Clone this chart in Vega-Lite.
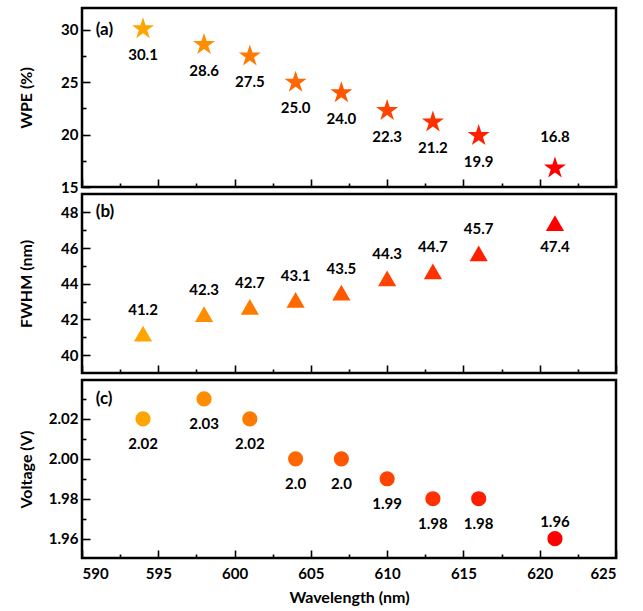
{
  "$schema": "https://vega.github.io/schema/vega-lite/v6.json",
  "padding": {"left": 16, "top": 6, "right": 10, "bottom": 4},
  "background": "white",
  "config": {
    "font": "Lato",
    "view": {"stroke": "black", "strokeWidth": 2.5},
    "axis": {"domain": false, "grid": false, "labelFont": "Lato", "labelFontWeight": "bold", "labelFontSize": 15, "labelColor": "black", "titleFont": "Lato", "titleFontWeight": "bold", "titleFontSize": 16, "titleColor": "black", "tickColor": "black", "tickWidth": 1.6},
    "text": {"font": "Lato", "fontWeight": "bold", "fontSize": 15, "color": "black"}
  },
  "datasets": {
    "d": [
      {"wl": 594, "wpe": 30.1, "fwhm": 41.2, "v": 2.02, "vlab": "2.02"},
      {"wl": 598, "wpe": 28.6, "fwhm": 42.3, "v": 2.03, "vlab": "2.03"},
      {"wl": 601, "wpe": 27.5, "fwhm": 42.7, "v": 2.02, "vlab": "2.02"},
      {"wl": 604, "wpe": 25.0, "fwhm": 43.1, "v": 2.00, "vlab": "2.0"},
      {"wl": 607, "wpe": 24.0, "fwhm": 43.5, "v": 2.00, "vlab": "2.0"},
      {"wl": 610, "wpe": 22.3, "fwhm": 44.3, "v": 1.99, "vlab": "1.99"},
      {"wl": 613, "wpe": 21.2, "fwhm": 44.7, "v": 1.98, "vlab": "1.98"},
      {"wl": 616, "wpe": 19.9, "fwhm": 45.7, "v": 1.98, "vlab": "1.98"},
      {"wl": 621, "wpe": 16.8, "fwhm": 47.4, "v": 1.96, "vlab": "1.96"}
    ]
  },
  "bounds": "flush",
  "spacing": 7,
  "vconcat": [
    {
      "width": 534, "height": 179,
      "data": {"name": "d"},
      "resolve": {"axis": {"x": "independent", "y": "independent"}},
      "layer": [
        {
          "mark": {"type": "point", "shape": "M0,-1L0.2245,-0.309L0.951,-0.309L0.363,0.118L0.588,0.809L0,0.382L-0.588,0.809L-0.363,0.118L-0.951,-0.309L-0.2245,-0.309Z", "filled": true, "size": 540, "opacity": 1},
          "encoding": {
            "x": {"field": "wl", "type": "quantitative", "scale": {"domain": [590, 625], "nice": false, "zero": false},
                  "axis": {"orient": "bottom", "values": [590, 595, 600, 605, 610, 615, 620, 625], "labels": false, "title": null, "tickSize": -8}},
            "y": {"field": "wpe", "type": "quantitative", "scale": {"domain": [15, 32.1], "nice": false, "zero": false},
                  "axis": {"orient": "left", "values": [15, 20, 25, 30], "tickSize": -8, "labelPadding": 12, "title": "WPE (%)", "titleX": -56, "titleBaseline": "middle"}},
            "color": {"field": "wl", "type": "quantitative", "scale": {"domain": [594, 621], "range": ["#FFA500", "#FF0000"], "interpolate": "rgb"}, "legend": null}
          }
        },
        {
          "transform": [{"filter": "datum.wl < 620"}],
          "mark": {"type": "text", "dy": 26},
          "encoding": {
            "x": {"field": "wl", "type": "quantitative", "axis": null},
            "y": {"field": "wpe", "type": "quantitative", "axis": null},
            "text": {"field": "wpe", "type": "quantitative", "format": ".1f"}
          }
        },
        {
          "transform": [{"filter": "datum.wl > 620"}],
          "mark": {"type": "text", "dy": -31},
          "encoding": {
            "x": {"field": "wl", "type": "quantitative", "axis": null},
            "y": {"field": "wpe", "type": "quantitative", "axis": null},
            "text": {"field": "wpe", "type": "quantitative", "format": ".1f"}
          }
        },
        {
          "data": {"values": [{"tag": "(a)"}]},
          "mark": {"type": "text", "align": "left", "fontSize": 17},
          "encoding": {
            "x": {"datum": 590.9, "type": "quantitative", "axis": {"orient": "bottom", "values": [592.5, 597.5, 602.5, 607.5, 612.5, 617.5, 622.5], "labels": false, "title": null, "tickSize": -4}},
            "y": {"datum": 30.0, "type": "quantitative", "axis": {"orient": "left", "values": [17.5, 22.5, 27.5], "labels": false, "title": null, "tickSize": -4}},
            "text": {"field": "tag"}
          }
        }
      ]
    },
    {
      "width": 534, "height": 179,
      "data": {"name": "d"},
      "resolve": {"axis": {"x": "independent", "y": "independent"}},
      "layer": [
        {
          "mark": {"type": "point", "shape": "triangle-up", "filled": true, "size": 330, "opacity": 1},
          "encoding": {
            "x": {"field": "wl", "type": "quantitative", "scale": {"domain": [590, 625], "nice": false, "zero": false},
                  "axis": {"orient": "bottom", "values": [590, 595, 600, 605, 610, 615, 620, 625], "labels": false, "title": null, "tickSize": -8}},
            "y": {"field": "fwhm", "type": "quantitative", "scale": {"domain": [39, 49.03], "nice": false, "zero": false},
                  "axis": {"orient": "left", "values": [40, 42, 44, 46, 48], "tickSize": -8, "labelPadding": 12, "title": "FWHM (nm)", "titleX": -56, "titleBaseline": "middle"}},
            "color": {"field": "wl", "type": "quantitative", "scale": {"domain": [594, 621], "range": ["#FFA500", "#FF0000"], "interpolate": "rgb"}, "legend": null}
          }
        },
        {
          "transform": [{"filter": "datum.wl < 620"}],
          "mark": {"type": "text", "dy": -24},
          "encoding": {
            "x": {"field": "wl", "type": "quantitative", "axis": null},
            "y": {"field": "fwhm", "type": "quantitative", "axis": null},
            "text": {"field": "fwhm", "type": "quantitative", "format": ".1f"}
          }
        },
        {
          "transform": [{"filter": "datum.wl > 620"}],
          "mark": {"type": "text", "dy": 24},
          "encoding": {
            "x": {"field": "wl", "type": "quantitative", "axis": null},
            "y": {"field": "fwhm", "type": "quantitative", "axis": null},
            "text": {"field": "fwhm", "type": "quantitative", "format": ".1f"}
          }
        },
        {
          "data": {"values": [{"tag": "(b)"}]},
          "mark": {"type": "text", "align": "left", "fontSize": 17},
          "encoding": {
            "x": {"datum": 590.9, "type": "quantitative", "axis": {"orient": "bottom", "values": [592.5, 597.5, 602.5, 607.5, 612.5, 617.5, 622.5], "labels": false, "title": null, "tickSize": -4}},
            "y": {"datum": 48.0, "type": "quantitative", "axis": {"orient": "left", "values": [41, 43, 45, 47], "labels": false, "title": null, "tickSize": -4}},
            "text": {"field": "tag"}
          }
        }
      ]
    },
    {
      "width": 534, "height": 178,
      "data": {"name": "d"},
      "resolve": {"axis": {"x": "independent", "y": "independent"}},
      "layer": [
        {
          "mark": {"type": "point", "shape": "circle", "filled": true, "size": 230, "opacity": 1},
          "encoding": {
            "x": {"field": "wl", "type": "quantitative", "scale": {"domain": [590, 625], "nice": false, "zero": false},
                  "axis": {"orient": "bottom", "values": [590, 595, 600, 605, 610, 615, 620, 625], "tickSize": -8, "labelPadding": 16, "title": "Wavelength (nm)", "titlePadding": 8}},
            "y": {"field": "v", "type": "quantitative", "scale": {"domain": [1.9503, 2.0395], "nice": false, "zero": false},
                  "axis": {"orient": "left", "values": [1.96, 1.98, 2.0, 2.02], "format": ".2f", "tickSize": -8, "labelPadding": 12, "title": "Voltage (V)", "titleX": -56, "titleBaseline": "middle"}},
            "color": {"field": "wl", "type": "quantitative", "scale": {"domain": [594, 621], "range": ["#FFA500", "#FF0000"], "interpolate": "rgb"}, "legend": null}
          }
        },
        {
          "transform": [{"filter": "datum.wl < 620"}],
          "mark": {"type": "text", "dy": 25},
          "encoding": {
            "x": {"field": "wl", "type": "quantitative", "axis": null},
            "y": {"field": "v", "type": "quantitative", "axis": null},
            "text": {"field": "vlab"}
          }
        },
        {
          "transform": [{"filter": "datum.wl > 620"}],
          "mark": {"type": "text", "dy": -17},
          "encoding": {
            "x": {"field": "wl", "type": "quantitative", "axis": null},
            "y": {"field": "v", "type": "quantitative", "axis": null},
            "text": {"field": "vlab"}
          }
        },
        {
          "data": {"values": [{"tag": "(c)"}]},
          "mark": {"type": "text", "align": "left", "fontSize": 17},
          "encoding": {
            "x": {"datum": 590.9, "type": "quantitative", "axis": {"orient": "bottom", "values": [592.5, 597.5, 602.5, 607.5, 612.5, 617.5, 622.5], "labels": false, "title": null, "tickSize": -4}},
            "y": {"datum": 2.0302, "type": "quantitative", "axis": {"orient": "left", "values": [1.97, 1.99, 2.01, 2.03], "labels": false, "title": null, "tickSize": -4}},
            "text": {"field": "tag"}
          }
        }
      ]
    }
  ]
}
